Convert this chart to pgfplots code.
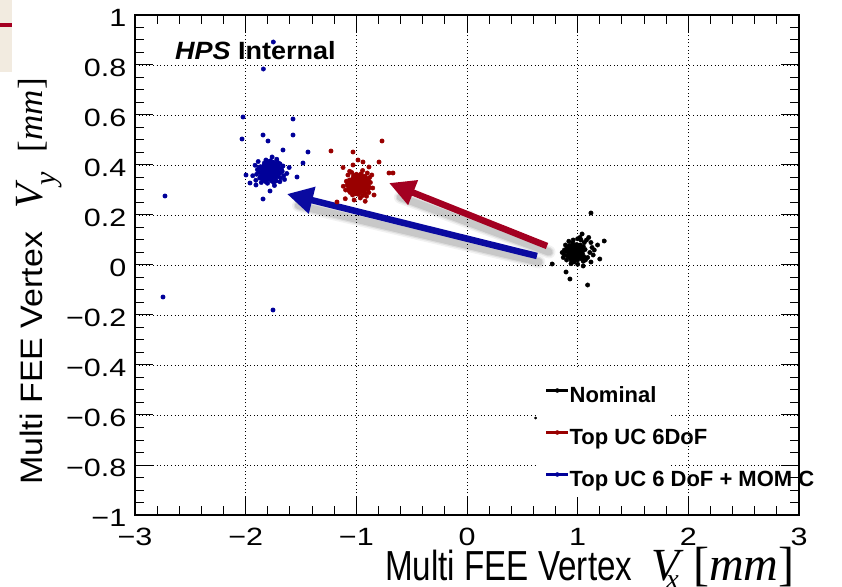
\documentclass[border=0pt]{standalone}
\usepackage{fontspec}
\setmainfont{Liberation Sans}
\newfontfamily\tms{Liberation Serif}
\usepackage{graphicx}
\usepackage{pgfplots}
\pgfplotsset{compat=1.18}
\usetikzlibrary{arrows.meta}

\definecolor{ucred}{RGB}{153,0,0}
\definecolor{momblue}{RGB}{0,0,153}
\definecolor{arrowred}{RGB}{163,0,33}
\definecolor{arrowblue}{RGB}{10,10,160}
\definecolor{slidebeige}{RGB}{242,235,224}
\definecolor{slidered}{RGB}{165,0,33}

\tikzset{shadowline/.style={line width=#1, black, shift={(2pt,-6pt)}, line cap=round}}

% grid below the points, ticks and frame above them
\pgfplotsset{
  layers/gridunder/.define layer set={
    axis background,axis grid,main,axis ticks,axis lines,axis tick labels,
    axis descriptions,axis foreground
  }{
    grid style={/pgfplots/on layer=axis grid},
    tick style={/pgfplots/on layer=axis ticks},
    axis line style={/pgfplots/on layer=axis lines},
    label style={/pgfplots/on layer=axis descriptions},
    legend style={/pgfplots/on layer=axis descriptions},
    title style={/pgfplots/on layer=axis descriptions},
    colorbar style={/pgfplots/on layer=axis descriptions},
    ticklabel style={/pgfplots/on layer=axis tick labels},
    axis background@ style={/pgfplots/on layer=axis background},
    3d box foreground style={/pgfplots/on layer=axis foreground},
  },
  leg/.style={legend image code/.code={%
      \draw[line width=2.6pt,#1] (0pt,6pt) -- (22pt,6pt);
      \fill[#1] (11pt,6pt) circle (2pt);}},
}

\begin{document}
\begin{tikzpicture}
% edge of the slide behind the plot
\fill[slidebeige] (-135pt,443pt) rectangle (-123pt,515pt);
\fill[slidered] (-135pt,488.3pt) rectangle (-123pt,491.7pt);

\begin{axis}[
  set layers=gridunder,
  scale only axis, width=664pt, height=500pt,
  at={(0pt,0pt)}, anchor=south west,
  xmin=-3, xmax=3, ymin=-1, ymax=1,
  xtick={-3,-2,-1,0,1,2,3},
  xticklabels={−3,−2,−1,0,1,2,3},
  ytick={-1,-0.8,-0.6,-0.4,-0.2,0,0.2,0.4,0.6,0.8,1},
  yticklabels={−1,−0.8,−0.6,−0.4,−0.2,0,0.2,0.4,0.6,0.8,1},
  minor x tick num=4, minor y tick num=3,
  major tick length=18pt, minor tick length=9pt,
  tick style={black, line width=1pt},
  xmajorgrids, ymajorgrids,
  major grid style={black, line width=0.8pt, dash pattern=on 1pt off 2.6pt},
  axis line style={line width=1.3pt},
  ticklabel style={font=\fontsize{25}{25}\selectfont, xscale=1.22},
  xticklabel style={inner sep=0pt, anchor=north, yshift=-13pt},
  yticklabel style={inner sep=0pt, anchor=east, xshift=-7pt, yshift=-2.5pt},
  legend cell align=left,
  legend style={draw=none, fill=none, at={(axis cs:0.705,-0.484)},
    anchor=north west, inner sep=0pt, outer sep=0pt, row sep=21pt,
    font=\fontsize{22}{22}\selectfont\bfseries,
    nodes={inner sep=0pt, text height=16pt, text depth=5pt},
    /tikz/every even column/.append style={column sep=5pt}},
]
% white panel behind the legend
\fill[white] (axis cs:0.632,-0.985) rectangle (axis cs:1.834,-0.42);

\addplot[only marks, mark=*, mark size=2.2pt, black, leg=black] coordinates {
(0.987,0.040) (0.931,0.054) (1.007,0.068) (0.959,0.026) (1.035,0.052) (0.967,0.062) (0.979,0.048) (0.911,0.036) (0.999,0.020) (0.947,0.076)
(1.019,0.044) (0.975,0.058) (0.939,0.046) (0.991,0.082) (1.055,0.034) (0.955,0.050) (1.003,0.056) (0.923,0.068) (0.983,0.032) (0.971,0.042)
(1.027,0.064) (0.891,0.056) (0.995,0.046) (0.951,0.034) (1.011,0.074) (0.963,0.066) (1.047,0.058) (0.943,0.018) (0.983,0.052) (0.935,0.060)
(0.999,0.038) (0.967,0.012) (1.015,0.050) (0.919,0.044) (0.987,0.064) (0.955,0.088) (1.007,0.028) (0.971,0.054) (1.023,0.080) (0.947,0.040)
(0.975,0.036) (0.903,0.072) (0.991,0.050) (0.963,0.048) (1.039,0.024) (0.939,0.064) (0.979,0.070) (0.959,0.056) (1.003,0.042) (0.927,0.030)
(1.067,0.062) (0.951,0.052) (0.995,0.060) (0.967,0.044) (1.011,0.036) (0.915,0.050) (0.987,0.024) (0.943,0.058) (1.031,0.068) (0.975,0.050)
(0.959,0.038) (0.999,0.078) (0.931,0.042) (0.983,0.060) (1.015,0.048) (0.951,0.070) (1.007,0.054) (0.963,0.030) (1.043,0.046) (0.907,0.062)
(0.991,0.034) (0.971,0.076) (1.023,0.056) (0.939,0.026) (0.979,0.040) (0.879,0.040) (1.003,0.062) (0.955,0.046) (1.019,0.070) (0.967,0.068)
(0.995,0.030) (0.923,0.054) (1.011,0.060) (0.947,0.032) (0.987,0.054) (0.959,0.080) (1.051,0.074) (0.935,0.038) (0.975,0.022) (0.999,0.052)
(0.943,0.050) (1.027,0.038) (0.963,0.058) (0.983,0.046) (0.927,0.078) (1.007,0.032) (0.951,0.062) (1.035,0.040) (0.971,0.034) (0.991,0.072)
(1.030,0.100) (1.000,0.105) (1.130,0.070) (1.150,0.060) (0.880,0.060) (1.060,0.090) (1.080,0.100) (1.100,0.110) (1.040,0.124)
(0.870,0.030) (0.860,0.050) (0.890,0.080) (1.090,0.030) (1.110,0.050) (1.120,0.090) (1.070,0.020) (0.920,0.095) (0.960,0.100) (1.020,0.110)
(0.900,0.020) (0.940,0.005) (1.000,0.003) (1.050,0.015) (1.140,0.040)
(1.120,0.208) (1.240,0.096) (1.200,0.024) (0.770,0.004) (0.895,-0.028) (0.930,-0.056) (1.090,-0.080) (1.050,-0.004) (1.120,0.012) (1.180,0.080)
};
\addlegendentry{Nominal}

\addplot[only marks, mark=*, mark size=2.2pt, ucred, leg=ucred] coordinates {
(-1.020,0.328) (-0.971,0.293) (-0.922,0.340) (-1.069,0.310) (-0.978,0.358) (-0.943,0.315) (-0.992,0.323) (-1.034,0.280) (-1.090,0.335) (-0.894,0.303)
(-1.006,0.348) (-0.957,0.320) (-0.999,0.298) (-0.873,0.330) (-1.041,0.370) (-0.985,0.308) (-0.964,0.338) (-0.922,0.288) (-1.048,0.325) (-1.013,0.318)
(-0.936,0.353) (-0.964,0.268) (-0.999,0.333) (-1.041,0.305) (-0.901,0.343) (-0.929,0.313) (-0.957,0.365) (-1.097,0.300) (-0.978,0.325) (-0.950,0.295)
(-1.027,0.335) (-1.118,0.315) (-0.985,0.345) (-1.006,0.285) (-0.936,0.328) (-0.852,0.308) (-1.062,0.340) (-0.971,0.318) (-0.880,0.350) (-1.020,0.303)
(-1.034,0.320) (-0.908,0.275) (-0.985,0.330) (-0.992,0.313) (-1.076,0.360) (-0.936,0.298) (-0.915,0.323) (-0.964,0.310) (-1.013,0.338) (-1.055,0.290)
(-0.943,0.378) (-0.978,0.305) (-0.950,0.333) (-1.006,0.315) (-1.034,0.343) (-0.985,0.283) (-1.076,0.328) (-0.957,0.300) (-0.922,0.355) (-0.985,0.320)
(-1.027,0.310) (-0.887,0.335) (-1.013,0.293) (-0.950,0.325) (-0.992,0.345) (-0.915,0.305) (-0.971,0.340) (-1.055,0.313) (-0.999,0.363) (-0.943,0.278)
(-1.041,0.330) (-0.894,0.318) (-0.964,0.350) (-1.069,0.298) (-1.020,0.323) (-1.020,0.260) (-0.943,0.338) (-0.999,0.308) (-0.915,0.348) (-0.922,0.315)
(-1.055,0.333) (-0.971,0.288) (-0.950,0.343) (-1.048,0.303) (-0.971,0.328) (-0.880,0.310) (-0.901,0.368) (-1.027,0.295) (-1.083,0.320) (-0.978,0.335)
(-0.985,0.300) (-1.027,0.353) (-0.957,0.313) (-0.999,0.325) (-0.887,0.290) (-1.048,0.340) (-0.943,0.305) (-1.020,0.358) (-1.041,0.318) (-0.908,0.330)
(-1.229,0.456) (-1.030,0.452) (-0.768,0.496) (-0.795,0.412) (-0.705,0.368) (-0.669,0.368) (-1.175,0.252) (-0.940,0.412) (-0.886,0.392) (-1.030,0.400)
(-1.120,0.390) (-0.860,0.360) (-0.840,0.280) (-1.100,0.265) (-0.920,0.255) (-1.060,0.375) (-0.985,0.420)
};
\addlegendentry{Top UC 6DoF}

\addplot[only marks, mark=*, mark size=2.2pt, momblue, leg=momblue] coordinates {
(-1.796,0.390) (-1.698,0.369) (-1.831,0.348) (-1.747,0.411) (-1.880,0.372) (-1.761,0.357) (-1.782,0.378) (-1.663,0.396) (-1.817,0.420) (-1.726,0.336)
(-1.852,0.384) (-1.775,0.363) (-1.712,0.381) (-1.803,0.327) (-1.915,0.399) (-1.740,0.375) (-1.824,0.366) (-1.684,0.348) (-1.789,0.402) (-1.768,0.387)
(-1.866,0.354) (-1.628,0.366) (-1.810,0.381) (-1.733,0.399) (-1.838,0.339) (-1.754,0.351) (-1.901,0.363) (-1.719,0.423) (-1.789,0.372) (-1.705,0.360)
(-1.817,0.393) (-1.761,0.432) (-1.845,0.375) (-1.677,0.384) (-1.796,0.354) (-1.740,0.318) (-1.831,0.408) (-1.768,0.369) (-1.859,0.330) (-1.726,0.390)
(-1.775,0.396) (-1.649,0.342) (-1.803,0.375) (-1.754,0.378) (-1.887,0.414) (-1.712,0.354) (-1.782,0.345) (-1.747,0.366) (-1.824,0.387) (-1.691,0.405)
(-1.936,0.357) (-1.733,0.372) (-1.810,0.360) (-1.761,0.384) (-1.838,0.396) (-1.670,0.375) (-1.796,0.414) (-1.719,0.363) (-1.873,0.348) (-1.775,0.375)
(-1.747,0.393) (-1.817,0.333) (-1.698,0.387) (-1.789,0.360) (-1.845,0.378) (-1.733,0.345) (-1.831,0.369) (-1.754,0.405) (-1.894,0.381) (-1.656,0.357)
(-1.803,0.399) (-1.768,0.336) (-1.859,0.366) (-1.712,0.411) (-1.782,0.390) (-1.607,0.390) (-1.824,0.357) (-1.740,0.381) (-1.852,0.345) (-1.761,0.348)
(-1.810,0.405) (-1.684,0.369) (-1.838,0.360) (-1.726,0.402) (-1.796,0.369) (-1.747,0.330) (-1.908,0.339) (-1.705,0.393) (-1.775,0.417) (-1.817,0.372)
(-1.719,0.375) (-1.866,0.393) (-1.754,0.363) (-1.789,0.381) (-1.691,0.333) (-1.831,0.402) (-1.733,0.357) (-1.880,0.390) (-1.768,0.399) (-1.803,0.342)
(-2.024,0.592) (-1.572,0.584) (-2.033,0.504) (-1.843,0.520) (-1.798,0.496) (-1.572,0.520) (-1.663,0.460) (-1.437,0.452) (-1.482,0.408) (-1.536,0.352)
(-1.997,0.360) (-1.961,0.328) (-1.843,0.264) (-1.780,0.296) (-1.907,0.320)
(-2.729,0.276) (-2.747,-0.128) (-1.753,-0.180) (-1.840,0.784) (-1.750,0.892)
};
\addlegendentry{Top UC 6 DoF + MOM C}

\addplot[only marks, mark=*, mark size=1.2pt, black, forget plot] coordinates {(0.620,-0.612)};

% arrows with a soft shadow
\draw[shadowline=13pt, opacity=0.05] (axis cs:0.723,0.076) -- (axis cs:-0.62,0.295);
\draw[shadowline=10pt, opacity=0.08] (axis cs:0.723,0.076) -- (axis cs:-0.62,0.295);
\draw[shadowline=7.5pt, opacity=0.10] (axis cs:0.723,0.076) -- (axis cs:-0.62,0.295);
\draw[shadowline=13pt, opacity=0.05] (axis cs:0.632,0.036) -- (axis cs:-1.54,0.262);
\draw[shadowline=10pt, opacity=0.08] (axis cs:0.632,0.036) -- (axis cs:-1.54,0.262);
\draw[shadowline=7.5pt, opacity=0.10] (axis cs:0.632,0.036) -- (axis cs:-1.54,0.262);
\draw[line width=6.5pt, arrowred, -{Triangle[length=26pt,width=25pt]}]
  (axis cs:0.723,0.076) -- (axis cs:-0.705,0.328);
\draw[line width=6.5pt, arrowblue, -{Triangle[length=26pt,width=26pt]}]
  (axis cs:0.632,0.036) -- (axis cs:-1.627,0.284);
\end{axis}

\node[anchor=base west, inner sep=0pt] at (40pt,455pt)
  {\fontsize{25}{25}\selectfont\bfseries\scalebox{1.08}[1]{\itshape HPS\upshape\ Internal}};

\node[anchor=base west, inner sep=0pt] at (250pt,-65pt)
  {\scalebox{0.79}[1]{\fontsize{42}{42}\selectfont Multi FEE Vertex}\hspace{19pt}%
   {\tms\itshape\fontsize{46}{46}\selectfont V}\hspace{-13pt}%
   \raisebox{-8pt}{\tms\itshape\fontsize{28}{28}\selectfont x}\hspace{14.5pt}%
   {\tms\fontsize{48}{48}\selectfont[\textit{mm}]}};

\node[rotate=90, anchor=base west, inner sep=0pt] at (-92pt,30pt)
  {\scalebox{1.096}[1]{\fontsize{31}{31}\selectfont Multi FEE Vertex}\hspace{23pt}%
   {\tms\itshape\fontsize{40}{40}\selectfont V}\hspace{-1pt}%
   \raisebox{-13pt}{\tms\itshape\fontsize{30}{30}\selectfont y}\hspace{20pt}%
   {\tms\fontsize{35}{35}\selectfont[\textit{mm}]}};

% page frame
\pgfresetboundingbox
\useasboundingbox (-135pt,-71pt) rectangle (707pt,515pt);
\end{tikzpicture}
\end{document}
